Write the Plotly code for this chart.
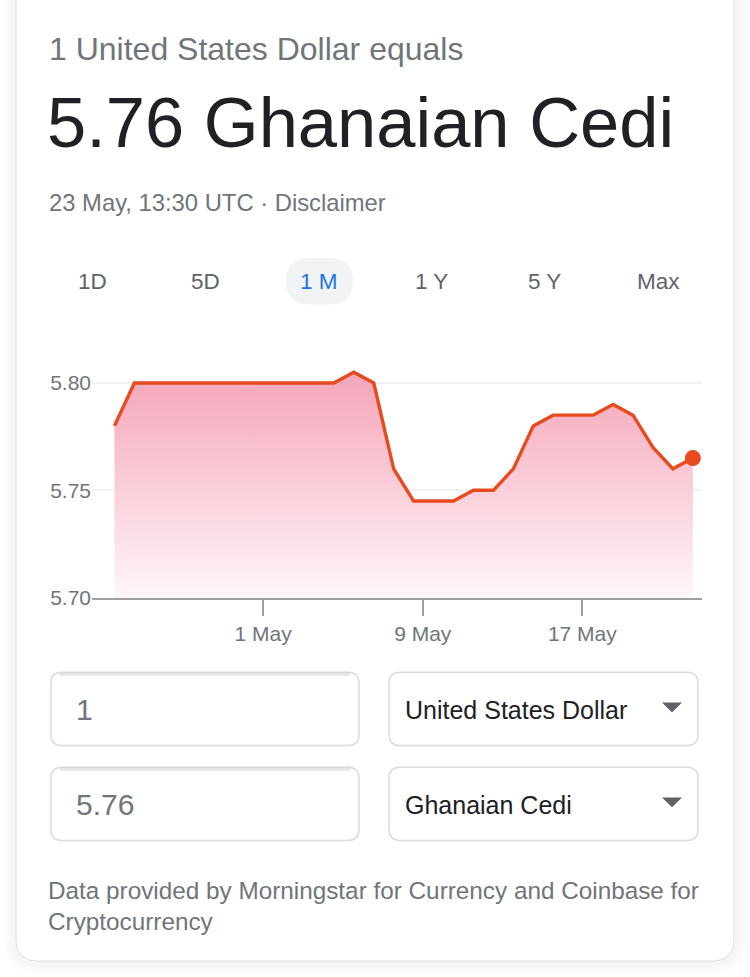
import pandas as pd
import plotly.graph_objects as go

# ---------------- data ----------------
dates = pd.date_range("2021-04-23 13:00", periods=30, freq="D")
rates = [5.78, 5.80, 5.80, 5.80, 5.80, 5.80, 5.80, 5.80, 5.80, 5.80,
         5.80, 5.80, 5.805, 5.80, 5.76, 5.745, 5.745, 5.745, 5.75, 5.75,
         5.76, 5.78, 5.785, 5.785, 5.785, 5.79, 5.785, 5.77, 5.76, 5.765]
x_tick_vals = ["2021-05-01", "2021-05-09", "2021-05-17"]
x_tick_text = ["1 May", "9 May", "17 May"]
y_tick_vals = [5.70, 5.75, 5.80]
y_tick_text = ["5.70", "5.75", "5.80"]
tabs = ["1D", "5D", "1 M", "1 Y", "5 Y", "Max"]
tab_centers = [92, 205, 318.5, 431, 544.5, 658]

W, H = 750, 977
FONT = "Liberation Sans, Arial, sans-serif"
GRAY = "#70757a"
DARK = "#202124"


def px(x):
    return x / W


def py(y):
    return 1 - y / H


def rrect(x0, y0, x1, y1, r):
    pts = [
        ("M", [(x0 + r, y0)]),
        ("L", [(x1 - r, y0)]),
        ("Q", [(x1, y0), (x1, y0 + r)]),
        ("L", [(x1, y1 - r)]),
        ("Q", [(x1, y1), (x1 - r, y1)]),
        ("L", [(x0 + r, y1)]),
        ("Q", [(x0, y1), (x0, y1 - r)]),
        ("L", [(x0, y0 + r)]),
        ("Q", [(x0, y0), (x0 + r, y0)]),
    ]
    s = ""
    for cmd, ps in pts:
        s += cmd + " " + " ".join(f"{px(a):.5f},{py(b):.5f}" for a, b in ps) + " "
    return s + "Z"


fig = go.Figure()

fig.add_trace(go.Scatter(
    x=dates, y=rates, mode="lines",
    line=dict(color="#e8491d", width=3.4),
    fill="tozeroy",
    fillgradient=dict(type="vertical",
                      colorscale=[[0, "#fff7f9"], [1, "#f5a5b9"]],
                      start=5.70, stop=5.805),
    hoverinfo="skip", showlegend=False,
))
fig.add_trace(go.Scatter(
    x=[dates[-1]], y=[rates[-1]], mode="markers",
    marker=dict(color="#e8491d", size=16),
    hoverinfo="skip", showlegend=False,
))

shapes = []
# soft card shadow (outer rings fading out)
for d in range(14, 0, -2):
    a = 0.045 * (1 - d / 15)
    shapes.append(dict(type="path", xref="paper", yref="paper",
                       path=rrect(16 - d, -30, 734 + d, 972 + d, 22 + d),
                       line=dict(color=f"rgba(0,0,0,{a:.4f})", width=2.2),
                       fillcolor="rgba(0,0,0,0)", layer="below"))
shapes.append(dict(type="path", xref="paper", yref="paper",
                   path=rrect(16, -30, 734, 972, 22),
                   line=dict(color="#e0e0e0", width=1.2),
                   fillcolor="#ffffff", layer="below"))
# tab pill
shapes.append(dict(type="path", xref="paper", yref="paper",
                   path=rrect(286, 261, 353, 308, 23.5),
                   line=dict(width=0), fillcolor="#f1f3f4", layer="below"))
# input boxes
for (y0, y1) in [(680, 754), (776, 850)]:
    shapes.append(dict(type="path", xref="paper", yref="paper",
                       path=rrect(51, y0, 359, y1, 11),
                       line=dict(color="#dcdcdc", width=1.5),
                       fillcolor="#ffffff", layer="below"))
    shapes.append(dict(type="line", xref="paper", yref="paper",
                       x0=px(60), x1=px(350), y0=py(y0 + 2), y1=py(y0 + 2),
                       line=dict(color="rgba(0,0,0,0.10)", width=3), layer="below"))
    shapes.append(dict(type="path", xref="paper", yref="paper",
                       path=rrect(389, y0, 698, y1, 11),
                       line=dict(color="#dcdcdc", width=1.5),
                       fillcolor="#ffffff", layer="below"))
    cy = (y0 + y1) / 2 - 1.5
    shapes.append(dict(type="path", xref="paper", yref="paper",
                       path=f"M {px(662):.5f},{py(cy - 5):.5f} L {px(682):.5f},{py(cy - 5):.5f} "
                            f"L {px(672):.5f},{py(cy + 5):.5f} Z",
                       line=dict(width=0), fillcolor="#5f6368"))

annotations = []


def txt(t, x, y, size, color, anchor="left"):
    annotations.append(dict(text=t, x=px(x), y=py(y), xref="paper", yref="paper",
                            xanchor=anchor, yanchor="middle", showarrow=False,
                            font=dict(family=FONT, size=size, color=color)))


txt("1 United States Dollar equals", 47, 50, 32, GRAY)
txt("5.76 Ghanaian Cedi", 45, 124, 70.5, DARK)
txt("23 May, 13:30 UTC · Disclaimer", 47, 205, 23.8, GRAY)
for t, c in zip(tabs, tab_centers):
    txt(t, c, 285, 22.5, "#1a73e8" if t == "1 M" else "#5f6368", anchor="center")
txt("1", 74, 718, 30, "#70757a")
txt("5.76", 74, 814, 30, "#70757a")
txt("United States Dollar", 403, 718, 25, DARK)
txt("Ghanaian Cedi", 403, 814, 25, DARK)
txt("Data provided by Morningstar for Currency and Coinbase for", 46, 901, 24.3, GRAY)
txt("Cryptocurrency", 46, 932, 24.3, GRAY)

fig.update_layout(
    width=W, height=H,
    margin=dict(l=0, r=0, t=0, b=0),
    paper_bgcolor="#ffffff", plot_bgcolor="rgba(0,0,0,0)",
    shapes=shapes, annotations=annotations,
    xaxis=dict(domain=[px(92), px(702)],
               range=["2021-04-22 10:00", "2021-05-23 00:00"],
               tickvals=x_tick_vals, ticktext=x_tick_text,
               ticks="outside", ticklen=16, tickwidth=2, tickcolor="#a0a0a0",
               showline=True, linecolor="#a0a0a0", linewidth=2,
               showgrid=False, zeroline=False,
               tickfont=dict(family=FONT, size=21, color=GRAY)),
    yaxis=dict(domain=[py(604.5), py(365.6)],
               range=[5.70, 5.81],
               tickvals=y_tick_vals, ticktext=y_tick_text,
               ticks="", showline=False, zeroline=False,
               showgrid=True, gridcolor="#f1f1f1", gridwidth=1.5,
               tickfont=dict(family=FONT, size=21, color=GRAY)),
)

fig.write_html("out.html")
